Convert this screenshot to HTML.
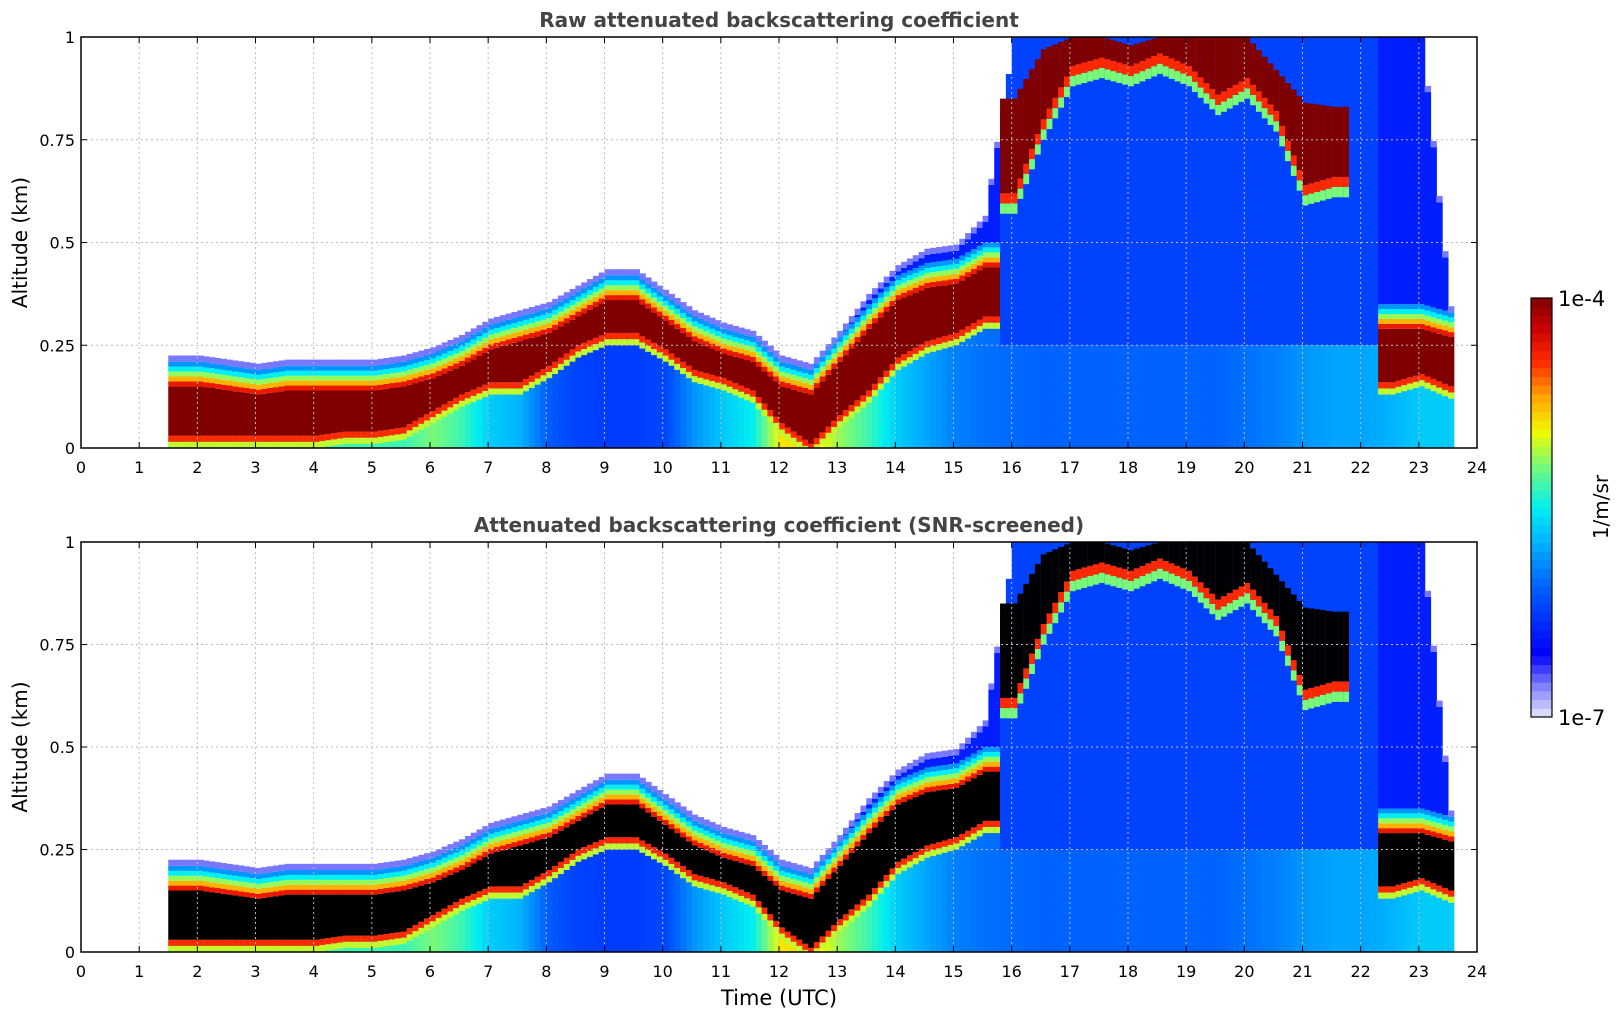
<!DOCTYPE html>
<html><head><meta charset="utf-8"><style>
body{margin:0;background:#fff;}
svg{display:block;font-family:"DejaVu Sans","Liberation Sans",sans-serif;}
</style></head><body>
<svg id="svg" width="1621" height="1020"></svg>
<script>
// ---- data (half-hourly, 1.5..23.5 UTC) ----
const hours=[1.5,2,2.5,3,3.5,4,4.5,5,5.5,6,6.5,7,7.5,8,8.5,9,9.5,10,10.5,11,11.5,12,12.5,13,13.5,14,14.5,15,15.5,16,16.5,17,17.5,18,18.5,19,19.5,20,20.5,21,21.5,22,22.5,23,23.5];
const bandTop=[.15,.15,.14,.13,.14,.14,.14,.14,.15,.17,.2,.24,.26,.28,.32,.36,.36,.31,.26,.23,.21,.15,.13,.21,.29,.36,.39,.40,.44,0,0,0,0,0,0,0,0,0,0,0,0,0,.29,.29,.27];
const bandBot=[.03,.03,.03,.03,.03,.03,.04,.04,.05,.09,.13,.16,.16,.20,.25,.28,.28,.24,.19,.17,.14,.06,.01,.08,.14,.22,.26,.28,.32,0,0,0,0,0,0,0,0,0,0,0,0,0,.16,.18,.15];
const lowVal=[.55,.55,.55,.55,.55,.55,.55,.55,.55,.6,.55,.45,.42,.3,.26,.25,.25,.27,.38,.45,.5,.7,.72,.62,.55,.45,.4,.35,.33,.32,.31,.31,.31,.31,.31,.31,.31,.33,.35,.38,.4,.4,.42,.45,.45];
const fillTop=[.19,.19,.18,.17,.18,.18,.19,.19,.2,.22,.25,.29,.31,.33,.38,.42,.42,.36,.3,.28,.26,.2,.18,.27,.36,.43,.47,.48,.55,1,1,1,1,1,1,1,1,1,1,1,1,1,1,1,.33];
const cloudBot=[0,0,0,0,0,0,0,0,0,0,0,0,0,0,0,0,0,0,0,0,0,0,0,0,0,0,0,0,0,.62,.8,.93,.95,.93,.96,.93,.86,.9,.82,.64,.66,0,0,0,0];
const cloudTop=[0,0,0,0,0,0,0,0,0,0,0,0,0,0,0,0,0,0,0,0,0,0,0,0,0,0,0,0,0,.85,.97,1,1,.98,1,1,1,1,.92,.84,.83,0,0,0,0];
const xTicks=[0,1,2,3,4,5,6,7,8,9,10,11,12,13,14,15,16,17,18,19,20,21,22,23,24];
const yTicks=[0,0.25,0.5,0.75,1];
const yTickLabels=["0","0.25","0.5","0.75","1"];

const NS="http://www.w3.org/2000/svg";
const svg=document.getElementById('svg');
function el(t,a,p){const e=document.createElementNS(NS,t);for(const k in a)e.setAttribute(k,a[k]);(p||svg).appendChild(e);return e;}
const X0=81,X1=1477;
const xs=h=>X0+(X1-X0)*h/24;
const panels=[{y1:37,y0:448,title:"Raw attenuated backscattering coefficient",black:false,name:"raw-panel"},
              {y1:542,y0:952,title:"Attenuated backscattering coefficient (SNR-screened)",black:true,name:"screened-panel"}];
const stops=[[0,[230,230,250]],[0.08,[120,120,255]],[0.15,[0,0,255]],[0.3,[0,90,255]],[0.42,[0,180,255]],[0.5,[0,240,240]],[0.6,[120,250,120]],[0.68,[240,250,0]],[0.76,[255,170,0]],[0.85,[255,40,0]],[0.93,[200,0,0]],[1,[128,0,0]]];
function cmap(v){v=Math.max(0,Math.min(1,v));for(let i=1;i<stops.length;i++){if(v<=stops[i][0]){const a=stops[i-1],b=stops[i],f=(v-a[0])/(b[0]-a[0]);const c=a[1].map((x,j)=>Math.round(x+(b[1][j]-x)*f));return `rgb(${c})`;}}return 'rgb(128,0,0)';}
function interp(arr,h){if(h<=hours[0])return arr[0];for(let i=1;i<hours.length;i++){if(h<=hours[i]+1e-9){const f=(h-hours[i-1])/(hours[i]-hours[i-1]);
  if(arr[i-1]===0||arr[i]===0)return f<0.5?arr[i-1]:arr[i];
  return arr[i-1]+(arr[i]-arr[i-1])*f;}}return arr[arr.length-1];}

panels.forEach(P=>{
  const g=el('g',{});
  
  
  const ys=v=>P.y0-(P.y0-P.y1)*v;
  const hm=el('g',{},g);
  
  
  const dark=P.black?'#000':'rgb(128,0,0)';
  const step=0.1;
  function seg(h,a,b,fill){a=Math.max(0,a);b=Math.min(1,b);if(b<=a)return;
    const r=el('rect',{x:xs(h).toFixed(2),y:ys(b).toFixed(2),width:(xs(step)-xs(0)+0.6).toFixed(2),height:(ys(a)-ys(b)).toFixed(2),fill:fill},hm);
    
    }
  for(let h=hours[0];h<hours[hours.length-1]+0.001;h+=step){
    const bt=interp(bandTop,h),bb=interp(bandBot,h),lv=interp(lowVal,h),ft=interp(fillTop,h),cb=interp(cloudBot,h),ct=interp(cloudTop,h);
    const hasBand=bt>0.02&&(bt-bb)>0.02;
    if(hasBand){
      seg(h,0,bb,cmap(lv));
      if(lv<0.8){seg(h,bb-0.03,bb-0.015,cmap(0.65));seg(h,bb-0.015,bb,cmap(0.85));}
      seg(h,bb,bt,dark);
      const s=[.88,.75,.62,.5,.38];
      for(let i=0;i<s.length;i++)seg(h,bt+i*0.012,bt+(i+1)*0.012,cmap(s[i]));
      seg(h,bt+0.06,ft,cmap(0.2));
      seg(h,Math.max(ft,bt+0.06),Math.max(ft,bt+0.06)+0.015,cmap(0.08));
    } else {
      seg(h,0,0.25,cmap(lv));
      seg(h,0.25,ft,cmap(0.26));
    }
    if(ct>0.1&&ct-cb>0.02){
      seg(h,cb-0.05,cb-0.025,cmap(0.6));seg(h,cb-0.025,cb,cmap(0.85));
      seg(h,cb,ct,dark);
    }
  }
  xTicks.forEach(t=>{if(t>0&&t<24){const l=el('line',{x1:xs(t),x2:xs(t),y1:P.y1,y2:P.y0,stroke:'#bbb','stroke-dasharray':'2,3','stroke-width':1},g);}});
  yTicks.forEach(t=>{if(t>0&&t<1){const l=el('line',{x1:X0,x2:X1,y1:ys(t),y2:ys(t),stroke:'#bbb','stroke-dasharray':'2,3','stroke-width':1},g);}});
  const fr=el('rect',{x:X0,y:P.y1,width:X1-X0,height:P.y0-P.y1,fill:'none',stroke:'#000','stroke-width':1.5},g);
  
  xTicks.forEach((t,i)=>{
    el('line',{x1:xs(t),x2:xs(t),y1:P.y0,y2:P.y0-6,stroke:'#000'},g);
    el('line',{x1:xs(t),x2:xs(t),y1:P.y1,y2:P.y1+6,stroke:'#000'},g);
    const tx=el('text',{x:xs(t),y:P.y0+25,'text-anchor':'middle','font-size':16,fill:'#000'},g);tx.textContent=t;
    
  });
  yTicks.forEach((t,i)=>{
    el('line',{x1:X0,x2:X0+6,y1:ys(t),y2:ys(t),stroke:'#000'},g);
    el('line',{x1:X1,x2:X1-6,y1:ys(t),y2:ys(t),stroke:'#000'},g);
    const tx=el('text',{x:X0-6,y:ys(t)+6,'text-anchor':'end','font-size':16,fill:'#000'},g);tx.textContent=yTickLabels[i];
    
  });
  const yl=el('text',{x:27,y:(P.y0+P.y1)/2,'text-anchor':'middle','font-size':20,transform:`rotate(-90 27 ${(P.y0+P.y1)/2})`},g);yl.textContent='Altitude (km)';
  
  const ti=el('text',{x:(X0+X1)/2,y:P.y1-10,'text-anchor':'middle','font-size':20,'font-weight':'bold',fill:'#444'},g);ti.textContent=P.title;
  
});
const xl=el('text',{x:(X0+X1)/2,y:1005,'text-anchor':'middle','font-size':21});xl.textContent='Time (UTC)';

const cb=el('g',{});

const CX=1531,CW=21,CY1=298,CY0=717,N=48;
for(let i=0;i<N;i++){const v=(i+0.5)/N;el('rect',{x:CX,y:CY0-(i+1)*(CY0-CY1)/N,width:CW,height:(CY0-CY1)/N+0.5,fill:cmap(v)},cb);}
el('rect',{x:CX,y:CY1,width:CW,height:CY0-CY1,fill:'none',stroke:'#000','stroke-width':1.2},cb);
const t1=el('text',{x:1558,y:306,'font-size':21},cb);t1.textContent='1e-4';
const t2=el('text',{x:1558,y:725,'font-size':21},cb);t2.textContent='1e-7';
const t3=el('text',{x:1608,y:507,'text-anchor':'middle','font-size':20,transform:'rotate(-90 1608 507)'},cb);t3.textContent='1/m/sr';
</script>
</body></html>
